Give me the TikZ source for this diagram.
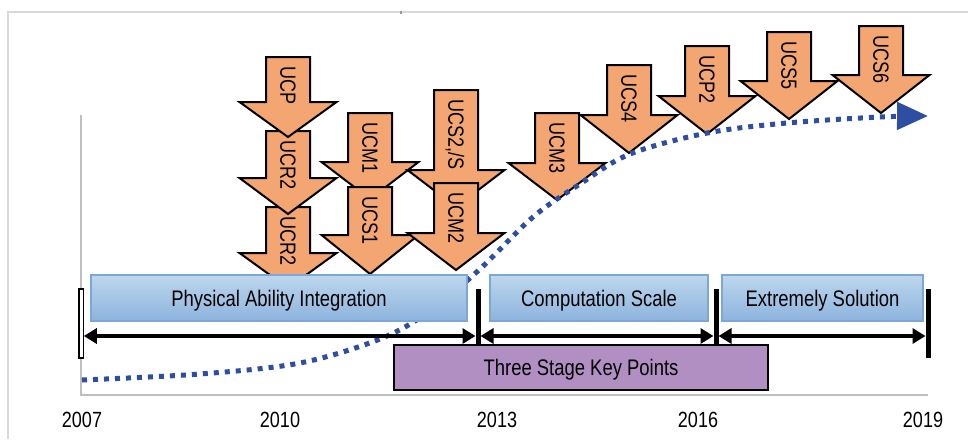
\documentclass[tikz,border=0pt]{standalone}
\usepackage{fontspec}
\setmainfont[FakeStretch=0.82]{Liberation Sans}
\usetikzlibrary{arrows.meta}
\definecolor{ucorange}{HTML}{F4A672}
\definecolor{ucblue}{HTML}{2E4EA2}
\definecolor{boxtop}{HTML}{BDD7EE}
\definecolor{boxbot}{HTML}{8DB3DD}
\definecolor{boxline}{HTML}{7DA7D4}
\definecolor{ucpurple}{HTML}{B18FC3}
\definecolor{axisgray}{HTML}{BFBFBF}
\definecolor{framegray}{HTML}{D9D9D9}
\newcommand\ucarrow[6]{%
  \draw[arrowshape] (#2-22,#3) -- (#2+22,#3) -- (#2+22,#4) -- (#2+48.5,#4) -- (#2,#5) -- (#2-48.5,#4) -- (#2-22,#4) -- cycle;
  \node[arrowlabel] (#1) at (#2,#3+9) {#6};
}
\begin{document}
\begin{tikzpicture}[x=1pt,y=-1pt,
  arrowshape/.style={fill=ucorange,draw=black,line width=2pt,line join=miter},
  arrowlabel/.style={rotate=-90,anchor=west,inner sep=0pt,text height=15.5pt,text depth=0pt,font=\fontsize{22}{24}\selectfont},
  bluebox/.style={draw=boxline,line width=1.5pt,top color=boxtop,bottom color=boxbot,minimum height=46pt,inner sep=0pt,text height=16pt,text depth=0pt,font=\fontsize{22.5}{25}\selectfont},
  purplebox/.style={draw=black,line width=2pt,fill=ucpurple,minimum height=45pt,inner sep=0pt,text height=16pt,text depth=0pt,font=\fontsize{22.5}{25}\selectfont},
  yearlabel/.style={inner sep=0pt,text height=15.75pt,text depth=0pt,font=\fontsize{22}{24}\selectfont},
  span/.style={line width=3.5pt,{Triangle[length=13pt,width=15pt]}-{Triangle[length=13pt,width=15pt]}},
  tickline/.style={line width=5pt},
  trend/.style={ucblue,line width=5pt,dash pattern=on 5pt off 6pt,-{Triangle[length=31pt,width=27pt]}}
]
\useasboundingbox (0,0) rectangle (968,439);
% outer frame
\draw[framegray,line width=1.2pt] (8,439) -- (8,12) -- (968,12);
\fill[framegray!70!black] (399.5,10.5) rectangle (402,14);
% axes
\draw[axisgray,line width=2pt] (81,115) -- (81,395) -- (928,395);
% arrows (lower first)
\ucarrow{ucrb}{288}{207}{253}{288}{UCR2}
\ucarrow{ucra}{288}{131}{178}{214}{UCR2}
\ucarrow{ucp}{288}{57}{102}{137}{UCP}
\ucarrow{ucma}{370}{113}{162}{199}{UCM1}
\ucarrow{ucsa}{370}{187}{235}{274}{UCS1}
\ucarrow{ucsb}{456}{90}{170}{207}{UCS2,/S}
\ucarrow{ucmb}{456}{183}{233}{270}{UCM2}
\ucarrow{ucmc}{557}{113}{163}{200}{UCM3}
\ucarrow{ucsd}{629}{65}{115}{153}{UCS4}
\ucarrow{ucpb}{707}{46}{96}{134}{UCP2}
\ucarrow{ucse}{789}{32}{81}{119}{UCS5}
\ucarrow{ucsf}{881}{26}{75}{113}{UCS6}
% trend curve
\draw[trend] plot[smooth,tension=0.55] coordinates {(82,380) (200,374) (300,363) (380,339) (430,311) (480,269) (533,217) (580,184) (630,154) (707,133) (787,123) (880,117) (928,116)};
% stage boxes
\node[bluebox,minimum width=376pt] (pai) at (279,298) {Physical Ability Integration};
\node[bluebox,minimum width=218pt] (cs) at (599,298) {Computation Scale};
\node[bluebox,minimum width=201pt] (es) at (822.5,298) {Extremely Solution};
% ticks
\coordinate (t0) at (81.3,336);
\coordinate (t1) at (478,336);
\coordinate (t2) at (716,336);
\coordinate (t3) at (928,336);
\filldraw[fill=white,draw=black,line width=1.2pt] (79,289) rectangle (83.5,358);
\draw[tickline] (478,289) -- (478,350);
\draw[tickline] (716,289) -- (716,350);
\draw[tickline] (928,289) -- (928,358);
\draw[span] ([xshift=2.5pt]t0) -- ([xshift=-2.5pt]t1);
\draw[span] ([xshift=2.5pt]t1) -- ([xshift=-2.5pt]t2);
\draw[span] ([xshift=2.5pt]t2) -- ([xshift=-2.5pt]t3);
% key points box
\node[purplebox,minimum width=374pt] (tskp) at (581,367.5) {Three Stage Key Points};
% years
\node[yearlabel] (y2007) at (82,419.5) {2007};
\node[yearlabel] (y2010) at (280,419.5) {2010};
\node[yearlabel] (y2013) at (497,419.5) {2013};
\node[yearlabel] (y2016) at (698,419.5) {2016};
\node[yearlabel] (y2019) at (923,419.5) {2019};
\end{tikzpicture}
\end{document}
